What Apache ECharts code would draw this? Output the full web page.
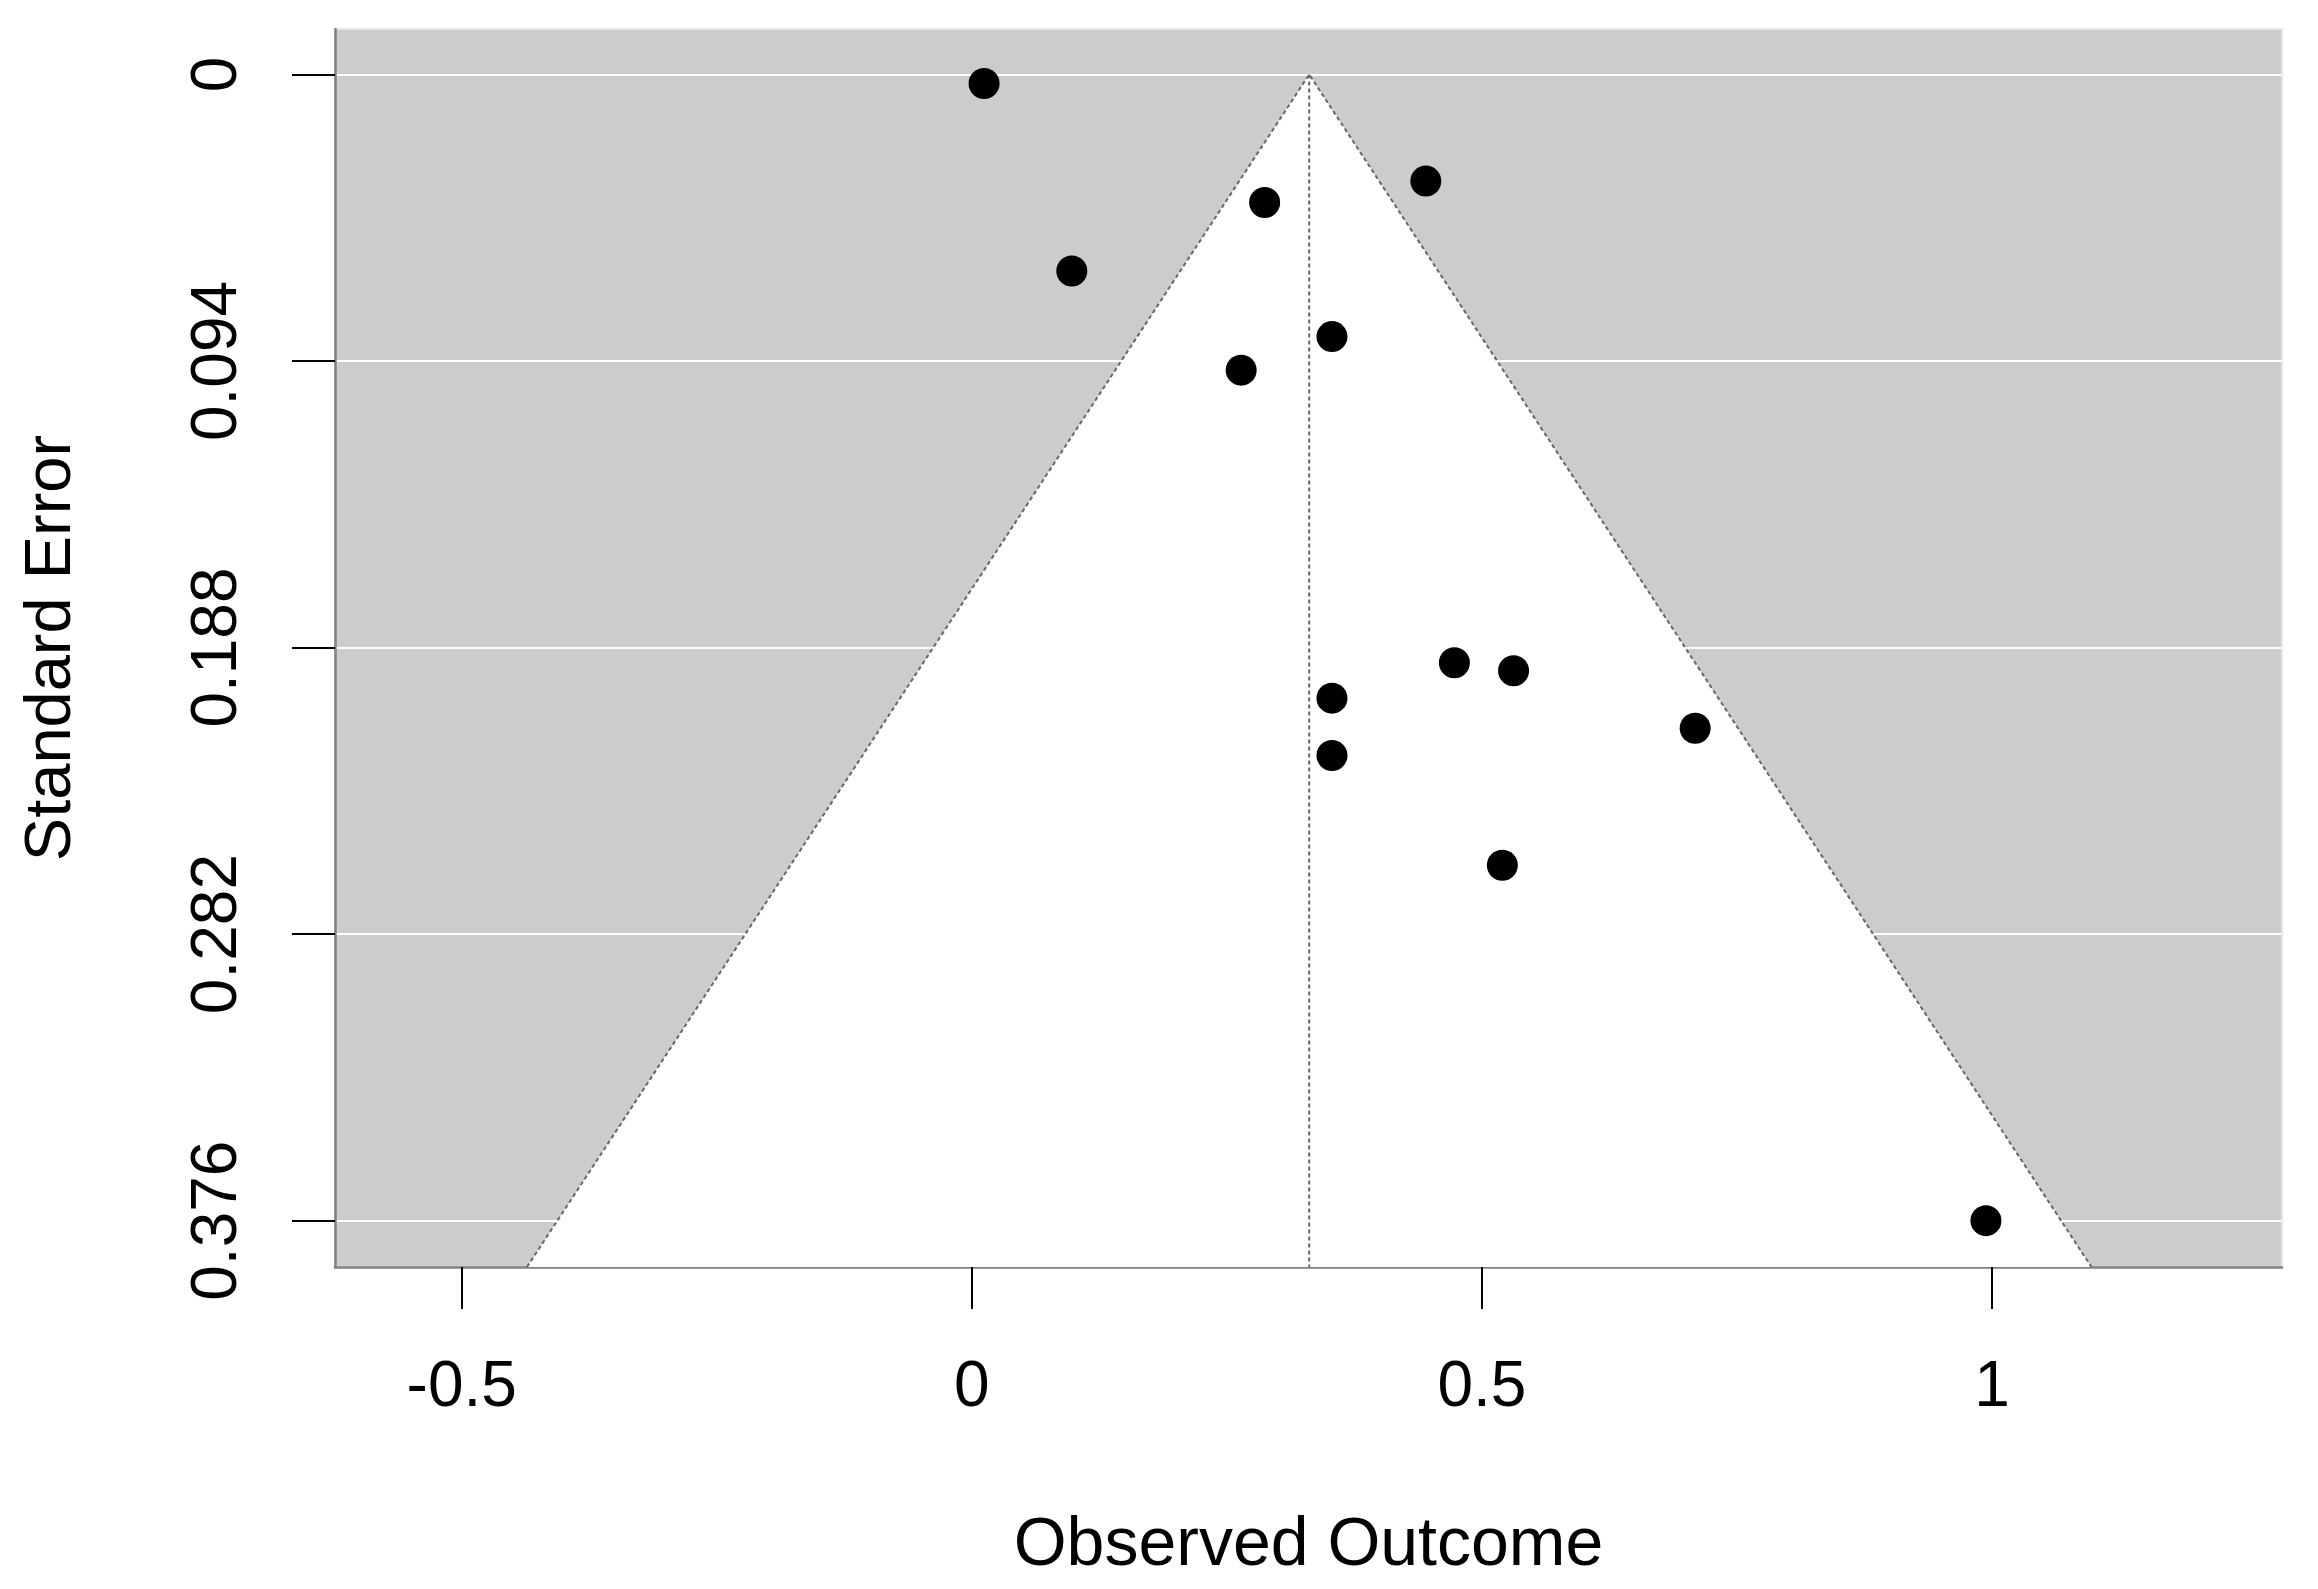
<!DOCTYPE html>
<html>
<head>
<meta charset="utf-8">
<script src="https://cdn.jsdelivr.net/npm/echarts@6/dist/echarts.min.js"></script>
<style>
html,body{margin:0;padding:0;background:#fff;}
#chart{width:2318px;height:1589px;}
</style>
</head>
<body>
<div id="chart"></div>
<script>
// Observed outcomes (effect sizes) and their standard errors
const observedOutcome = [0.012, 0.445, 0.287, 0.098, 0.353, 0.264, 0.473, 0.531, 0.353, 0.709, 0.353, 0.520, 0.994];
const standardError  = [0.003, 0.035, 0.042, 0.0645, 0.086, 0.097, 0.193, 0.1956, 0.2046, 0.2145, 0.2234, 0.2594, 0.376];
// Pooled estimate (funnel centre) and pseudo-confidence multiplier
const pooledEstimate = 0.3307;
const zCrit = 1.96;
// Axis ticks
const xTicks = [-0.5, 0, 0.5, 1];
const yTicks = [0, 0.094, 0.188, 0.282, 0.376];
// Axis ranges
const xRange = [-0.6242, 1.2842];
const yRange = [-0.0149, 0.3912];

const FONT = 'Liberation Sans, Arial, sans-serif';
const chart = echarts.init(document.getElementById('chart'), null, {renderer: 'canvas'});

const points = observedOutcome.map((v, i) => [v, standardError[i]]);

const option = {
  backgroundColor: '#ffffff',
  animation: false,
  grid: {
    left: 335, top: 29, width: 1947, height: 1238,
    show: true, backgroundColor: '#cccccc', borderColor: '#e6e6e6', borderWidth: 2
  },
  xAxis: {
    type: 'value',
    min: xRange[0], max: xRange[1],
    name: 'Observed Outcome',
    nameLocation: 'middle',
    nameGap: 245,
    nameTextStyle: {fontFamily: FONT, fontSize: 68, color: '#000'},
    axisLine: {show: true, onZero: false, lineStyle: {color: '#808080', width: 2.5}},
    axisTick: {show: true, length: 42, customValues: xTicks, lineStyle: {color: '#000', width: 2}},
    axisLabel: {show: true, customValues: xTicks, margin: 89, fontFamily: FONT, fontSize: 64, color: '#000',
      formatter: v => String(v)},
    splitLine: {show: false}
  },
  yAxis: {
    type: 'value',
    inverse: true,
    min: yRange[0], max: yRange[1],
    name: 'Standard Error',
    nameLocation: 'middle',
    nameGap: 250,
    nameRotate: 90,
    nameTextStyle: {fontFamily: FONT, fontSize: 65, color: '#000'},
    axisLine: {show: true, onZero: false, lineStyle: {color: '#808080', width: 2.5}},
    axisTick: {show: true, length: 43, customValues: yTicks, lineStyle: {color: '#000', width: 2}},
    axisLabel: {show: true, customValues: yTicks, rotate: 90, margin: 85, fontFamily: FONT, fontSize: 64, color: '#000',
      formatter: v => String(v)},
    splitLine: {show: true, lineStyle: {color: '#ffffff', width: 2}}
  },
  series: [
    {
      type: 'custom',
      z: 2,
      silent: true,
      clip: true,
      data: [[pooledEstimate, 0]],
      renderItem: function (params, api) {
        const est = api.value(0);
        const seMax = yRange[1];
        const apex = api.coord([est, 0]);
        const bl = api.coord([est - zCrit * seMax, seMax]);
        const br = api.coord([est + zCrit * seMax, seMax]);
        const bc = api.coord([est, seMax]);
        const dashStyle = {stroke: '#666666', lineWidth: 2, lineDash: [4, 3], fill: null};
        return {
          type: 'group',
          children: [
            {type: 'polygon', shape: {points: [apex, bl, br]}, style: {fill: '#ffffff', stroke: null}},
            {type: 'polyline', shape: {points: [bl, apex, br]}, style: dashStyle},
            {type: 'line', shape: {x1: apex[0], y1: apex[1], x2: bc[0], y2: bc[1]}, style: dashStyle}
          ]
        };
      }
    },
    {
      type: 'scatter',
      z: 5,
      symbol: 'circle',
      symbolSize: 31,
      itemStyle: {color: '#000000', opacity: 1},
      data: points
    }
  ]
};
chart.setOption(option);
</script>
</body>
</html>
